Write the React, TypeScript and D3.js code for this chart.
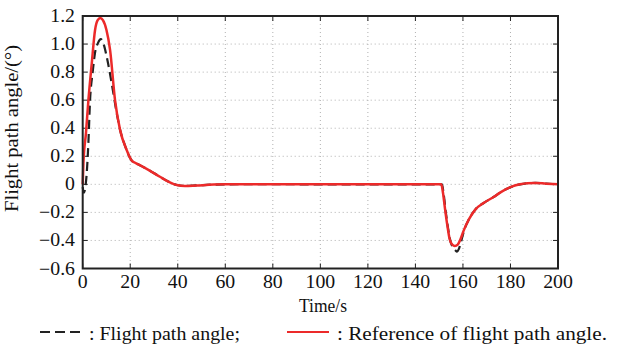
import React, { useEffect, useRef } from 'react';
import * as d3 from 'd3';

// Reference of flight path angle (red, solid)
const refTime = [0, 0.3, 1.4, 2.4, 3.8, 5.2, 6.3, 7.4, 8.5, 10, 11.5, 13.6, 15.7, 18.5, 20.6, 22.5, 24.8, 28, 32.5, 36, 39.6, 43, 48, 55, 60, 80, 100, 120, 140, 150, 150.9, 151.6, 152.5, 153.5, 154.4, 155.5, 156.6, 157.8, 159, 160.3, 162.5, 165.2, 169, 172.9, 176.5, 180, 184, 187, 190.4, 195, 200];
const refAngle = [0, 0.15, 0.37, 0.6, 0.86, 1.1, 1.17, 1.185, 1.17, 1.1, 0.96, 0.6, 0.39, 0.245, 0.17, 0.15, 0.13, 0.1, 0.054, 0.02, -0.005, -0.012, -0.008, -0.002, 0.0, 0.001, 0.0, 0.0, 0.0, 0.0, 0.0, -0.06, -0.18, -0.3, -0.39, -0.43, -0.44, -0.43, -0.39, -0.33, -0.25, -0.18, -0.13, -0.09, -0.05, -0.02, 0.0, 0.008, 0.01, 0.005, 0.0];

// Flight path angle (black, dashed)
const actTime = [0, 0.5, 1.0, 1.7, 2.4, 3.1, 4.2, 5.2, 6.5, 7.6, 8.8, 10.1, 12.2, 14.3, 16, 17.5, 20.6, 22.5, 24.8, 28, 32.5, 36, 39.6, 43, 48, 55, 60, 80, 100, 120, 140, 150, 151.2, 151.9, 152.8, 153.8, 154.8, 155.8, 156.8, 157.5, 158.3, 159.2, 160.3, 162.5, 165.2, 169, 172.9, 176.5, 180, 184, 187, 190.4, 195, 200];
const actAngle = [-0.02, -0.06, -0.03, 0.08, 0.3, 0.6, 0.8, 0.94, 1.01, 1.035, 1.0, 0.91, 0.72, 0.51, 0.37, 0.29, 0.17, 0.15, 0.13, 0.1, 0.054, 0.02, -0.005, -0.012, -0.008, -0.002, 0.0, 0.001, 0.0, 0.0, 0.0, 0.0, 0.0, -0.07, -0.2, -0.32, -0.41, -0.45, -0.47, -0.48, -0.46, -0.41, -0.34, -0.25, -0.18, -0.13, -0.09, -0.05, -0.02, 0.0, 0.008, 0.01, 0.005, 0.0];

const xTicks = [0, 20, 40, 60, 80, 100, 120, 140, 160, 180, 200];
const yTicks = [-0.6, -0.4, -0.2, 0, 0.2, 0.4, 0.6, 0.8, 1.0, 1.2];

const WIDTH = 618;
const HEIGHT = 350;
const FONT = '"Liberation Serif", "Times New Roman", serif';
const FONT_SIZE = 18;
const STRETCH = 1.1; // the original glyphs are a bit wider than plain Times

export default function App() {
  const svgRef = useRef<SVGSVGElement>(null);

  useEffect(() => {
    if (!svgRef.current) return;
    const svg = d3.select(svgRef.current);
    svg.selectAll('*').remove();

    const left = 82.7;
    const right = 558;
    const top = 16;
    const bottom = 268.5;

    const x = d3.scaleLinear().domain([0, 200]).range([left, right]);
    const y = d3.scaleLinear().domain([-0.6, 1.2]).range([bottom, top]);

    // Grid
    const grid = svg.append('g');
    xTicks.slice(1, -1).forEach((t) => {
      grid.append('line')
        .attr('x1', x(t)).attr('x2', x(t))
        .attr('y1', top).attr('y2', bottom)
        .attr('stroke', '#b0b0b0').attr('stroke-width', 1)
        .attr('stroke-dasharray', '1,3');
    });
    yTicks.slice(1, -1).forEach((t) => {
      grid.append('line')
        .attr('x1', left).attr('x2', right)
        .attr('y1', y(t)).attr('y2', y(t))
        .attr('stroke', '#b0b0b0').attr('stroke-width', 1)
        .attr('stroke-dasharray', '1,3');
    });

    // Inward ticks on all four sides
    const tickLen = 5;
    const ticks = svg.append('g').attr('stroke', '#222').attr('stroke-width', 1);
    xTicks.forEach((t) => {
      ticks.append('line').attr('x1', x(t)).attr('x2', x(t)).attr('y1', bottom).attr('y2', bottom - tickLen);
      ticks.append('line').attr('x1', x(t)).attr('x2', x(t)).attr('y1', top).attr('y2', top + tickLen);
    });
    yTicks.forEach((t) => {
      ticks.append('line').attr('x1', left).attr('x2', left + tickLen).attr('y1', y(t)).attr('y2', y(t));
      ticks.append('line').attr('x1', right).attr('x2', right - tickLen).attr('y1', y(t)).attr('y2', y(t));
    });

    const line = d3.line<number>().curve(d3.curveMonotoneX);

    // Flight path angle (dashed black)
    svg.append('path')
      .attr('d', line.x((_, i) => x(actTime[i])).y((d) => y(d))(actAngle))
      .attr('fill', 'none')
      .attr('stroke', '#222')
      .attr('stroke-width', 2.2)
      .attr('stroke-dasharray', '9,5');

    // Reference (solid red)
    svg.append('path')
      .attr('d', line.x((_, i) => x(refTime[i])).y((d) => y(d))(refAngle))
      .attr('fill', 'none')
      .attr('stroke', '#ec2a2a')
      .attr('stroke-width', 2.5);

    // Frame
    svg.append('rect')
      .attr('x', left).attr('y', top)
      .attr('width', right - left).attr('height', bottom - top)
      .attr('fill', 'none')
      .attr('stroke', '#222')
      .attr('stroke-width', 2);

    // Tick labels
    const labels = svg.append('g').attr('font-family', FONT).attr('font-size', FONT_SIZE).attr('fill', '#111');
    xTicks.forEach((t) => {
      labels.append('text')
        .attr('transform', `translate(${x(t)},288) scale(${STRETCH},1)`)
        .attr('text-anchor', 'middle')
        .text(String(t));
    });
    yTicks.forEach((t) => {
      labels.append('text')
        .attr('transform', `translate(75,${y(t) + 6}) scale(${STRETCH},1)`)
        .attr('text-anchor', 'end')
        .text(t === 0 ? '0' : (t < 0 ? '\u2212' : '') + Math.abs(t).toFixed(1));
    });

    // Axis titles
    svg.append('text')
      .attr('x', 299).attr('y', 311.5)
      .attr('textLength', 48).attr('lengthAdjust', 'spacingAndGlyphs')
      .attr('font-family', FONT).attr('font-size', FONT_SIZE).attr('fill', '#111')
      .text('Time/s');

    svg.append('text')
      .attr('transform', 'translate(18, 212) rotate(-90)')
      .attr('textLength', 167).attr('lengthAdjust', 'spacingAndGlyphs')
      .attr('font-family', FONT).attr('font-size', FONT_SIZE).attr('fill', '#111')
      .text('Flight path angle/(\u00b0)');

    // Legend
    const legend = svg.append('g').attr('font-family', FONT).attr('font-size', FONT_SIZE).attr('fill', '#111');
    legend.append('line')
      .attr('x1', 40).attr('x2', 85).attr('y1', 332).attr('y2', 332)
      .attr('stroke', '#222').attr('stroke-width', 2.2).attr('stroke-dasharray', '10,5');
    legend.append('text')
      .attr('x', 89).attr('y', 340)
      .attr('textLength', 151).attr('lengthAdjust', 'spacingAndGlyphs')
      .text(': Flight path angle;');
    legend.append('line')
      .attr('x1', 287).attr('x2', 329).attr('y1', 332).attr('y2', 332)
      .attr('stroke', '#ec2a2a').attr('stroke-width', 2.2);
    legend.append('text')
      .attr('x', 337).attr('y', 340)
      .attr('textLength', 270).attr('lengthAdjust', 'spacingAndGlyphs')
      .text(': Reference of flight path angle.');
  }, []);

  return (
    <svg
      ref={svgRef}
      width={WIDTH}
      height={HEIGHT}
      style={{ position: 'absolute', left: 0, top: 0, background: '#fff' }}
    />
  );
}
